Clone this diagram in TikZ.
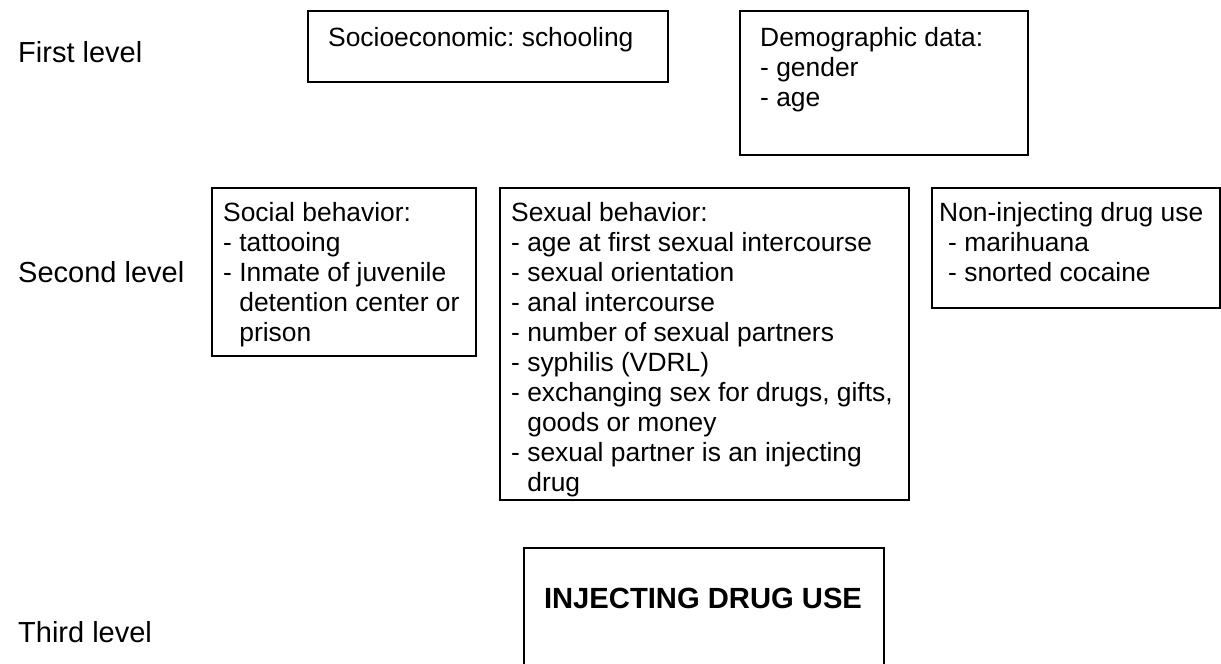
\documentclass[tikz,border=0pt]{standalone}
\usepackage{fontspec}
\setmainfont{Liberation Sans}
\frenchspacing
\begin{document}
\begin{tikzpicture}[x=1pt,y=-1pt,
  box/.style={draw=black,line width=1.6pt,rectangle,inner sep=0pt,anchor=north west},
  txt/.style={inner sep=0pt,anchor=north west,align=left,font=\fontsize{26.4}{30}\selectfont},
  lvl/.style={inner sep=0pt,anchor=base west,font=\fontsize{29}{33}\selectfont}]
\useasboundingbox (0,0) rectangle (1221,664);
% level labels
\node[lvl] (l1) at (18,62) {First level};
\node[lvl] (l2) at (18,282) {Second level};
\node[lvl] (l3) at (18,642) {Third level};
% first level
\node[box,minimum width=360pt,minimum height=71pt] (socio) at (307,10) {};
\node[txt] (sociot) at (328,25) {\strut Socioeconomic: schooling};
\node[box,minimum width=288pt,minimum height=144pt] (demo) at (739,10) {};
\node[txt] (demot) at (760,25) {\strut Demographic data:\\- gender\\- age};
% second level
\node[box,minimum width=264pt,minimum height=168pt] (social) at (211,187) {};
\node[txt] (socialt) at (223,200) {\strut Social behavior:\\- tattooing\\- Inmate of juvenile\\\phantom{- }detention center or\\\phantom{- }prison};
\node[box,minimum width=409pt,minimum height=312pt] (sexual) at (499,187) {};
\node[txt] (sexualt) at (511,200) {\strut Sexual behavior:\\- age at first sexual intercourse\\- sexual orientation\\- anal intercourse\\- number of sexual partners\\- syphilis (VDRL)\\- exchanging sex for drugs, gifts,\\\phantom{- }goods or money\\- sexual partner is an injecting\\\phantom{- }drug};
\node[box,minimum width=288pt,minimum height=120pt] (noninj) at (931,187) {};
\node[txt] (noninjt) at (939,200) {\strut Non-injecting drug use\\\hspace{9pt}- marihuana\\\hspace{9pt}- snorted cocaine};
% third level
\node[box,minimum width=360pt,minimum height=140pt] (inj) at (523,547) {};
\node[inner sep=0pt,anchor=base,font=\fontsize{29.2}{33}\selectfont\bfseries] (injt) at (703,608.5) {INJECTING DRUG USE};
\end{tikzpicture}
\end{document}
